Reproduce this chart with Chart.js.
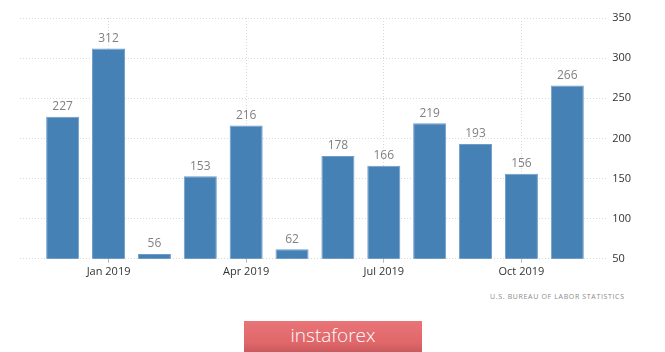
<!DOCTYPE html>
<html>
<head>
<meta charset="utf-8">
<script src="https://cdn.jsdelivr.net/npm/chart.js@4"></script>
<style>
  html, body { margin: 0; padding: 0; background: #fff; }
  #wrap { position: relative; width: 665px; height: 352px; font-family: "Open Sans", sans-serif; }
  #chartBox { position: absolute; left: 0; top: 0; width: 665px; height: 280px; }
  #source { position: absolute; left: 490px; top: 292px; font-size: 7px; letter-spacing: 0.65px; color: #8a8a8a; white-space: nowrap; }
  #logo { position: absolute; left: 244px; top: 321px; width: 178px; height: 31px;
          background: linear-gradient(#e87477, #e0676a 70%, #c95a5d); color: #fff;
          font-family: "Open Sans", sans-serif; font-weight: 300; font-size: 19px;
          text-align: center; line-height: 29px; }
</style>
</head>
<body>
<div id="wrap">
  <div id="chartBox"><canvas id="barChart"></canvas></div>
  <div id="source">U.S. BUREAU OF LABOR STATISTICS</div>
  <div id="logo">instaforex</div>
</div>
<script>
// Monthly values, Dec 2018 .. Nov 2019
const categories = ['Dec 2018', 'Jan 2019', 'Feb 2019', 'Mar 2019', 'Apr 2019', 'May 2019',
                    'Jun 2019', 'Jul 2019', 'Aug 2019', 'Sep 2019', 'Oct 2019', 'Nov 2019'];
const values = [227, 312, 56, 153, 216, 62, 178, 166, 219, 193, 156, 266];
const tickLabels = ['Jan 2019', 'Apr 2019', 'Jul 2019', 'Oct 2019'];
const yTicks = [50, 100, 150, 200, 250, 300, 350];

const tickIdx = tickLabels.map(l => categories.indexOf(l));

// draws the value above each bar
const valueLabels = {
    id: 'valueLabels',
    afterDatasetsDraw(chart) {
        const c = chart.ctx;
        const meta = chart.getDatasetMeta(0);
        c.save();
        c.font = '12px "Open Sans", sans-serif';
        c.fillStyle = '#808080';
        c.textAlign = 'center';
        c.textBaseline = 'bottom';
        meta.data.forEach((bar, i) => {
            c.fillText(values[i], bar.x, bar.y - 4);
        });
        c.restore();
    }
};

const ctx = document.getElementById('barChart').getContext('2d');
const chart = new Chart(ctx, {
    type: 'bar',
    data: {
        datasets: [{
            data: values.map((v, i) => ({ x: i, y: v })),
            backgroundColor: '#4581b5',
            borderColor: '#6f9dc9',
            borderWidth: 1,
            barPercentage: 0.72,
            categoryPercentage: 1
        }]
    },
    options: {
        responsive: true,
        maintainAspectRatio: false,
        animation: false,
        layout: { padding: { left: 20, top: 18, right: 30, bottom: 0 } },
        plugins: {
            legend: { display: false },
            tooltip: { enabled: false }
        },
        scales: {
            x: {
                type: 'linear',
                min: -0.93,
                max: 11.89,
                offset: false,
                afterBuildTicks: scale => { scale.ticks = tickIdx.map(v => ({ value: v })); },
                ticks: {
                    autoSkip: false,
                    maxRotation: 0,
                    padding: 2,
                    color: '#333',
                    font: { size: 11, family: '"Open Sans", sans-serif' },
                    callback: v => categories[v]
                },
                grid: {
                    offset: false,
                    color: '#d8d8d8',
                    tickColor: '#bbb',
                    tickLength: 4
                },
                border: { display: false, dash: [1, 2] }
            },
            y: {
                position: 'right',
                min: 50,
                max: 350,
                afterBuildTicks: scale => { scale.ticks = yTicks.map(v => ({ value: v })); },
                ticks: {
                    padding: 4,
                    color: '#333',
                    font: { size: 11, family: '"Open Sans", sans-serif' }
                },
                grid: { color: '#d8d8d8', drawTicks: false },
                border: { display: false, dash: [1, 2] }
            }
        }
    },
    plugins: [valueLabels]
});
</script>
</body>
</html>
